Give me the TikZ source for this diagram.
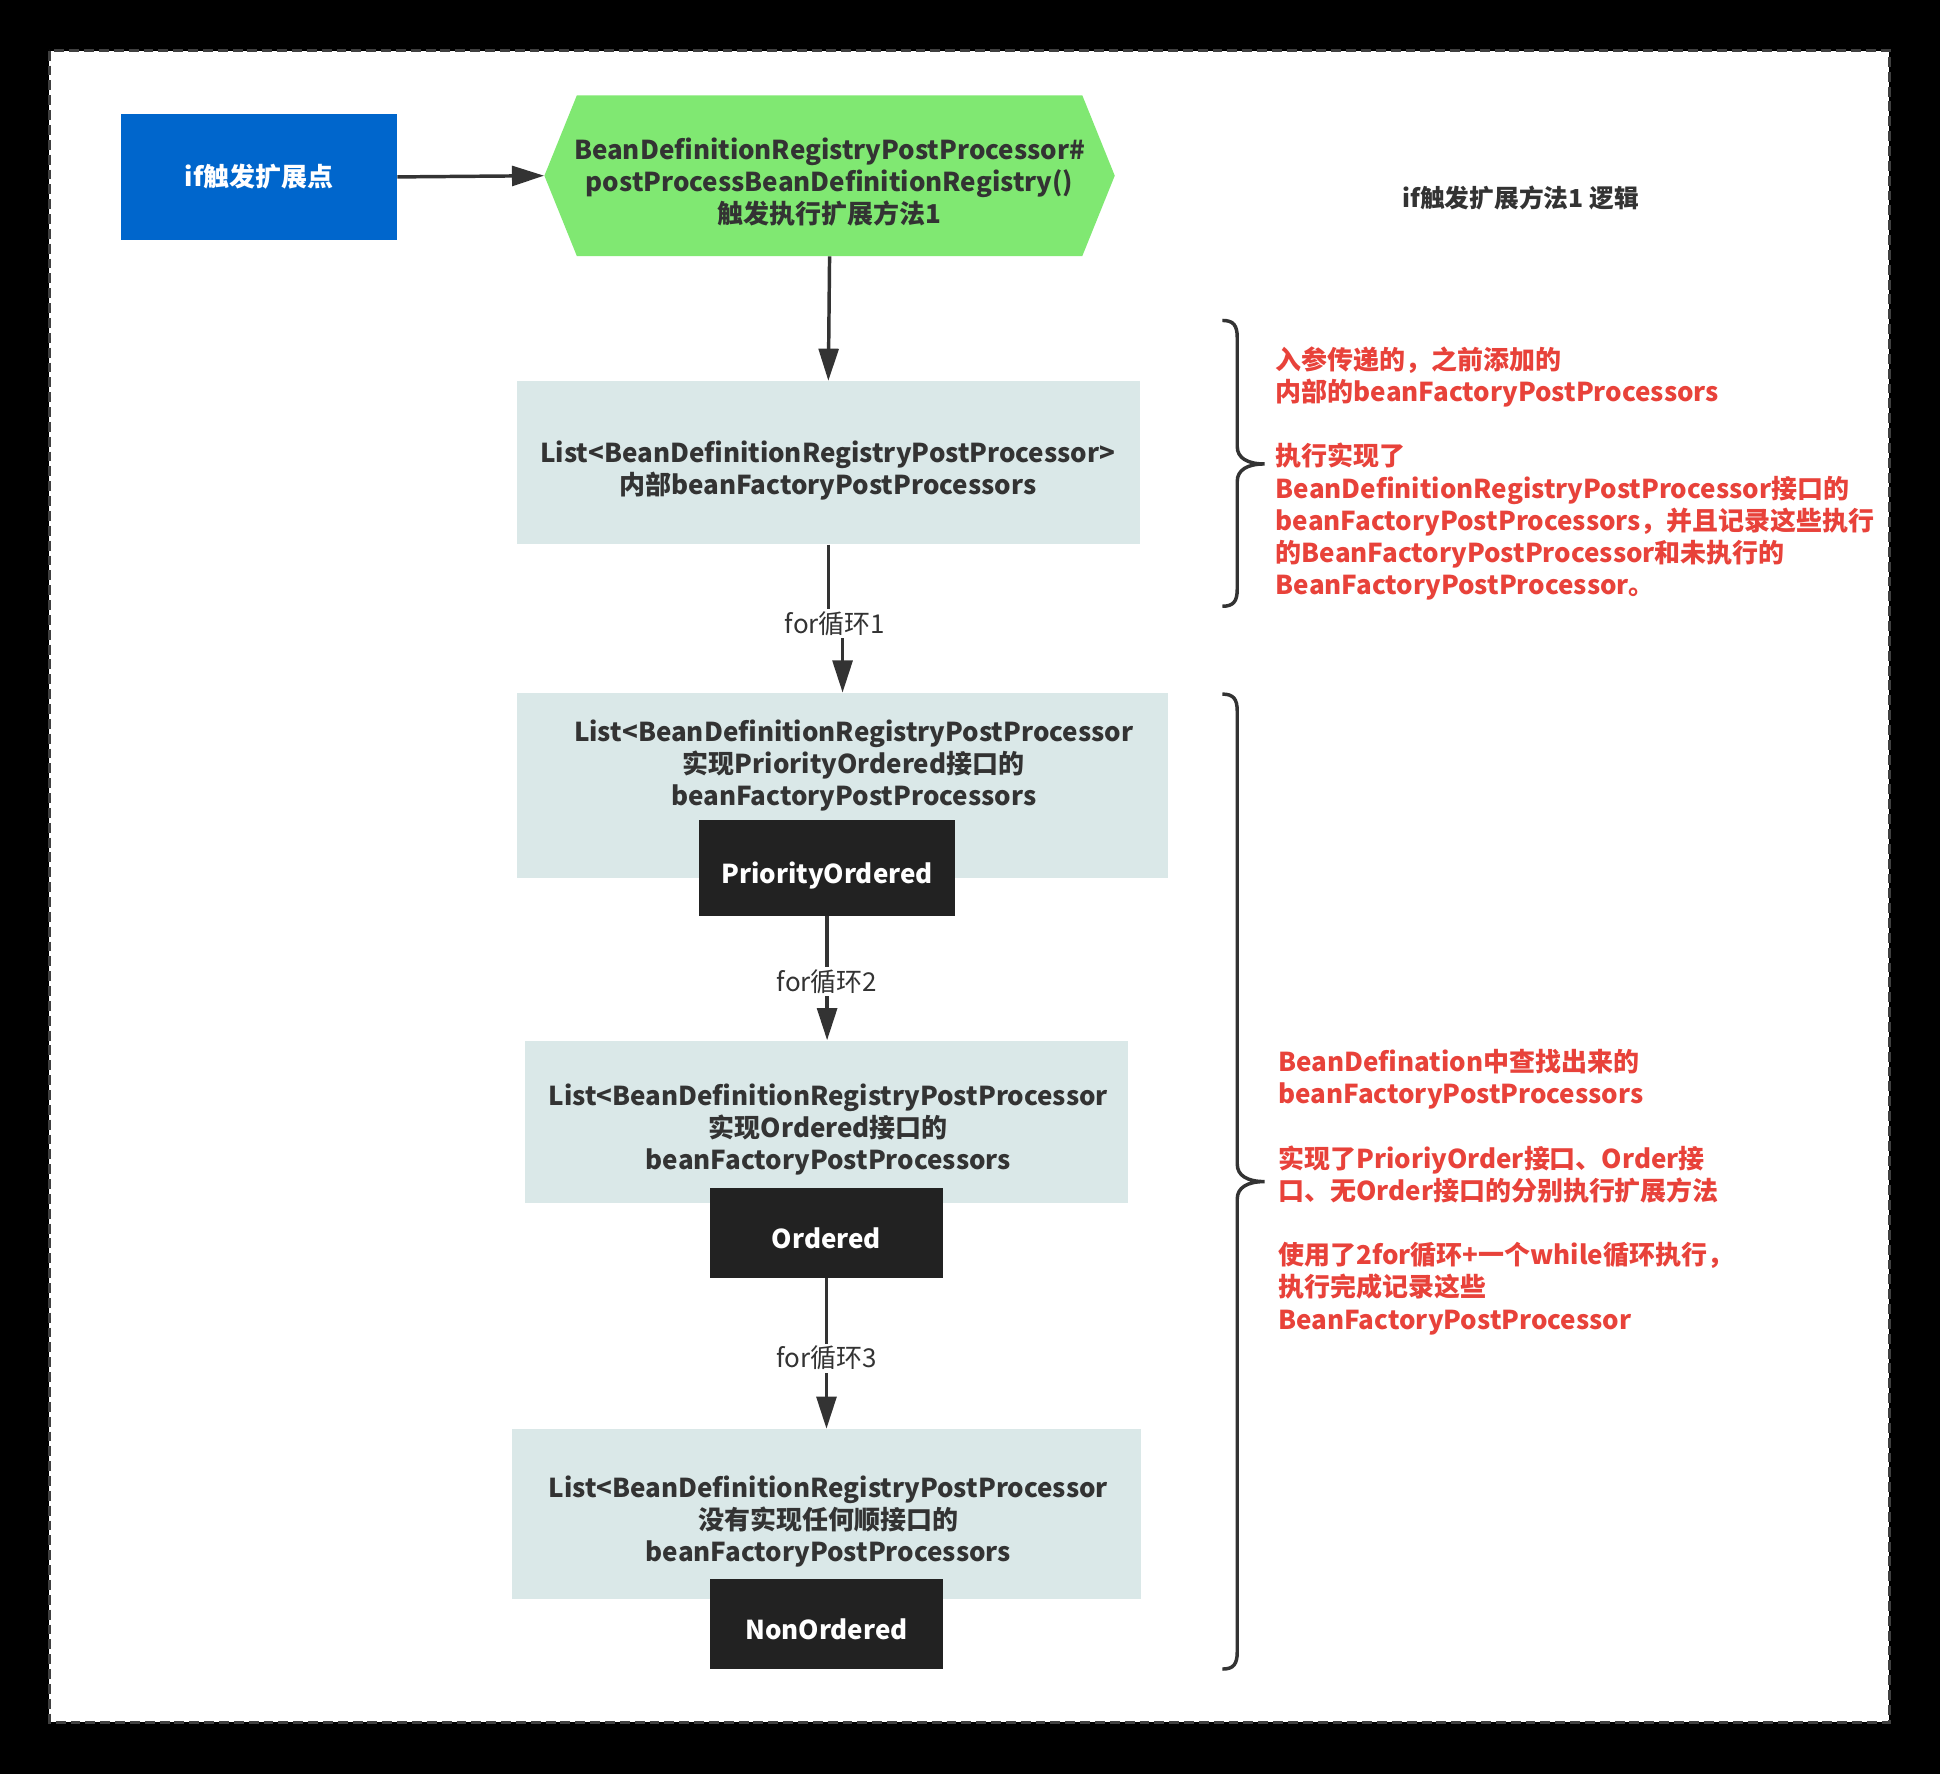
\documentclass[tikz,border=0pt]{standalone}
\usepackage{fontspec}
\setmainfont{Noto Sans CJK SC}
\usetikzlibrary{calc,positioning,arrows.meta,shapes.symbols}

\definecolor{txtgray}{HTML}{333333}
\definecolor{startblue}{HTML}{0066CC}
\definecolor{hexgreen}{HTML}{80E872}
\definecolor{listgray}{HTML}{DAE8E8}
\definecolor{tagblack}{HTML}{222222}
\definecolor{notered}{HTML}{E8423A}

\tikzset{
	flow/.style={draw=txtgray, line width=2.8pt, -{Triangle[length=26pt,width=16pt]}},
	listbox/.style={fill=listgray, inner sep=0pt},
	tagbox/.style={fill=tagblack, text=white, inner sep=0pt, text height=25pt, text depth=0pt, font=\bfseries\fontsize{21}{26}\selectfont},
	boxtext/.style={text=txtgray, align=center, inner sep=0pt, font=\bfseries\fontsize{21}{26}\selectfont},
	looplabel/.style={fill=white, text=txtgray, inner sep=2pt, font=\fontsize{21}{26}\selectfont},
	note/.style={text=notered, align=left, anchor=north west, inner sep=0pt, font=\bfseries\fontsize{21}{26}\selectfont},
	bracestyle/.style={draw=txtgray, line width=2.8pt},
}

\begin{document}
\begin{tikzpicture}[x=1pt,y=-1pt]
	\def\bx{988}	%left ends of the braces
	\def\bv{1000}	%straight part of the braces
	\def\bt{1022}	%tip of the braces

	\fill[black] (0,0) rectangle (1568,1434);		%outer frame
	\useasboundingbox (0,0) rectangle (1568,1434);
	\draw[fill=white, draw=gray!50!black, line width=2.5pt, dash pattern=on 8pt off 4pt] (40,41) rectangle (1527,1392);

	% start and trigger
	\node[fill=startblue, text=white, minimum width=223pt, minimum height=102pt, inner sep=0pt, font=\bfseries\fontsize{21}{26}\selectfont] (start) at (209.5,143) {if触发扩展点};
	\node[signal, signal to=west and east, signal pointer angle=136, fill=hexgreen, minimum width=461pt, minimum height=130pt, inner sep=0pt] (trigger) at (670.5,142) {};
	\node[boxtext] (triggertext) at (670.5,147) {BeanDefinitionRegistryPostProcessor\#\\postProcessBeanDefinitionRegistry()\\触发执行扩展方法1};
	\node[text=txtgray, font=\bfseries\fontsize{20}{24}\selectfont] (title) at (1229,160) {if触发扩展方法1 逻辑};

	% lists
	\node[listbox, minimum width=503pt, minimum height=132pt] (list1) at (669.5,374) {};
	\node[boxtext] (list1text) at (669,380) {List<BeanDefinitionRegistryPostProcessor>\\内部beanFactoryPostProcessors};

	\node[listbox, minimum width=526pt, minimum height=150pt] (list2) at (681,635) {};
	\node[boxtext] (list2text) at (690,619) {List<BeanDefinitionRegistryPostProcessor\\实现PriorityOrdered接口的\\beanFactoryPostProcessors};
	\node[tagbox, minimum width=207pt, minimum height=77pt] (tag2) at (668.5,701.5) {PriorityOrdered};

	\node[listbox, minimum width=488pt, minimum height=131pt] (list3) at (668,906.5) {};
	\node[boxtext] (list3text) at (669.5,913) {List<BeanDefinitionRegistryPostProcessor\\实现Ordered接口的\\beanFactoryPostProcessors};
	\node[tagbox, minimum width=188pt, minimum height=73pt] (tag3) at (668,996.5) {Ordered};

	\node[listbox, minimum width=508pt, minimum height=137pt] (list4) at (668,1223.5) {};
	\node[boxtext] (list4text) at (669.5,1230) {List<BeanDefinitionRegistryPostProcessor\\没有实现任何顺接口的\\beanFactoryPostProcessors};
	\node[tagbox, minimum width=188pt, minimum height=73pt] (tag4) at (668,1312.5) {NonOrdered};

	% connectors
	\draw[flow] (start.east) -- (trigger.west);
	\draw[flow] (trigger.south) -- (list1.north);
	\coordinate (jog1) at (675,504);
	\draw[flow] (list1.south) -- (list1.south |- jog1) -| (list2.north);
	\node[looplabel] (loop1) at (jog1) {for循环1};
	\draw[flow] (tag2.south) -- (tag2.south |- list3.north) node[looplabel, pos=0.53] (loop2) {for循环2};
	\draw[flow] (tag3.south) -- (tag3.south |- list4.north) node[looplabel, pos=0.53] (loop3) {for循环3};

	% braces
	\foreach \top/\tip/\bot in {259/375/490, 561/955/1349}{
		\draw[bracestyle] (\bx,\top) .. controls (\bx+9,\top) and (\bv,\top+4) .. (\bv,\top+14) -- (\bv,\tip-14) .. controls (\bv,\tip-5) and (\bv+8,\tip) .. (\bt,\tip) .. controls (\bv+8,\tip) and (\bv,\tip+5) .. (\bv,\tip+14) -- (\bv,\bot-14) .. controls (\bv,\bot-4) and (\bx+9,\bot) .. (\bx,\bot);
	}

	% notes
	\node[note] (note1) at (1031,280) {入参传递的，之前添加的\\内部的beanFactoryPostProcessors\\[26pt]执行实现了\\BeanDefinitionRegistryPostProcessor接口的\\beanFactoryPostProcessors，并且记录这些执行\\的BeanFactoryPostProcessor和未执行的\\BeanFactoryPostProcessor。};
	\node[note] (note2) at (1033,848) {BeanDefination中查找出来的\\beanFactoryPostProcessors\\[26pt]实现了PrioriyOrder接口、Order接\\口、无Order接口的分别执行扩展方法\\[26pt]使用了2for循环+一个while循环执行，\\执行完成记录这些\\BeanFactoryPostProcessor};
\end{tikzpicture}
\end{document}
